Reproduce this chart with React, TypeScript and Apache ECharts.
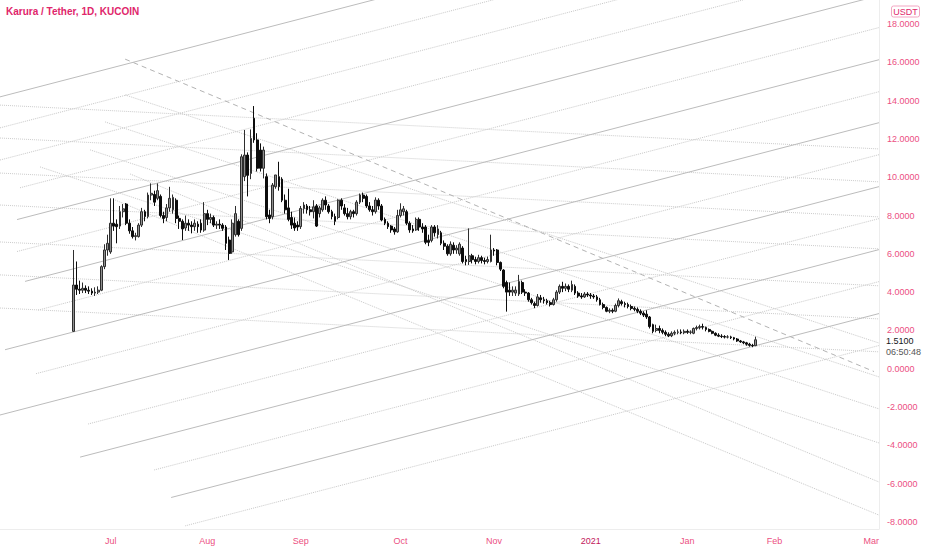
import React, { useEffect, useRef } from "react";
import * as echarts from "echarts";

// ---- data ----
const FIRST_INDEX = 23; // first candle's day index
const DAY_COUNT = 282; // days spanned by the time axis

const opens = [
  1.95, 4.37, 4.15, 4.1, 4.2, 4.1, 4.05, 3.95, 4.0, 4.1,
  5.33, 6.2, 6.1, 7.6, 7.55, 7.45, 8.2, 8.6, 7.6, 7.2,
  6.9, 6.9, 7.5, 8.2, 7.95, 9.07, 9.1, 8.9, 9.0, 8.0,
  7.9, 8.4, 8.3, 8.8, 7.85, 7.7, 7.35, 7.6, 7.5, 7.42,
  7.55, 7.6, 7.24, 8.1, 7.8, 7.9, 7.5, 7.55, 7.5, 7.4,
  6.72, 6.1, 7.0, 7.7, 7.33, 10.03, 11.16, 10.2, 13.08, 11.95,
  11.42, 10.47, 10.03, 8.03, 7.94, 9.51, 10.03, 9.9, 8.8, 8.4,
  7.9, 7.6, 7.5, 7.42, 8.37, 8.5, 8.3, 8.2, 8.5, 8.1,
  8.3, 8.8, 8.5, 8.2, 7.95, 7.9, 8.8, 8.4, 8.1, 7.94,
  8.2, 8.1, 8.7, 9.07, 9.0, 8.5, 8.3, 8.2, 8.8, 8.5,
  7.8, 7.6, 7.45, 7.3, 7.15, 8.0, 8.2, 8.2, 7.6, 7.3,
  7.25, 7.8, 7.4, 7.4, 6.7, 6.7, 7.4, 7.0, 7.1, 6.55,
  6.4, 6.0, 6.45, 6.2, 6.0, 6.3, 5.7, 5.6, 5.9, 5.7,
  5.6, 5.8, 5.65, 5.6, 5.6, 6.2, 6.2, 5.55, 5.15, 4.5,
  4.1, 4.0, 3.95, 3.9, 4.5, 4.0, 3.95, 3.6, 3.4, 3.3,
  3.7, 3.6, 3.55, 3.45, 3.35, 3.6, 4.0, 4.3, 4.2, 4.3,
  4.1, 4.3, 3.95, 3.8, 3.75, 3.9, 3.85, 3.8, 3.75, 3.6,
  3.35, 3.2, 3.0, 3.05, 3.0, 3.3, 3.5, 3.4, 3.35, 3.25,
  3.15, 3.1, 3.0, 2.9, 2.85, 2.7, 2.3, 2.0, 2.1, 2.0,
  1.9, 1.8, 1.72, 1.85, 1.9, 1.92, 1.88, 1.95, 1.9, 1.85,
  2.1, 2.15, 2.2, 2.15, 2.05, 1.95, 1.85, 1.75, 1.7, 1.68,
  1.65, 1.66, 1.62, 1.55, 1.45, 1.4, 1.35, 1.28, 1.22, 1.2,
];

const closes = [
  4.37, 4.15, 4.1, 4.2, 4.1, 4.05, 3.95, 4.0, 4.1, 5.33,
  6.2, 6.55, 7.6, 7.45, 7.42, 8.2, 8.35, 7.6, 7.2, 6.9,
  6.95, 7.5, 8.2, 7.95, 9.07, 9.16, 8.7, 9.3, 8.0, 7.85,
  8.4, 8.9, 8.95, 7.85, 7.7, 7.3, 7.6, 7.5, 7.42, 7.6,
  7.42, 7.24, 8.1, 7.8, 7.9, 7.5, 7.55, 7.5, 7.33, 6.55,
  6.02, 7.6, 8.1, 7.0, 11.07, 11.16, 10.1, 12.03, 11.95, 10.47,
  10.47, 11.42, 7.94, 7.85, 9.59, 10.12, 9.51, 8.8, 8.3, 7.8,
  7.5, 7.35, 7.4, 8.37, 8.55, 8.3, 8.2, 8.45, 7.45, 8.4,
  8.8, 8.55, 8.2, 7.95, 7.7, 8.8, 8.5, 8.1, 7.94, 8.2,
  8.1, 8.7, 9.07, 8.9, 8.5, 8.3, 8.2, 8.81, 8.5, 7.77,
  7.6, 7.42, 7.25, 7.15, 8.0, 8.3, 8.35, 7.6, 7.25, 7.2,
  7.8, 7.4, 7.3, 6.6, 6.6, 7.4, 7.1, 7.3, 6.55, 6.4,
  6.0, 6.5, 6.2, 6.3, 6.5, 5.6, 5.6, 5.9, 5.7, 5.6,
  5.8, 5.65, 5.6, 5.7, 6.2, 6.15, 5.55, 5.2, 4.3, 4.0,
  4.0, 4.1, 4.1, 4.55, 4.0, 3.95, 3.6, 3.45, 3.3, 3.75,
  3.6, 3.55, 3.45, 3.35, 3.6, 4.0, 4.3, 4.2, 4.3, 4.15,
  4.4, 3.95, 3.8, 3.75, 3.9, 3.85, 3.8, 3.75, 3.6, 3.35,
  3.2, 3.0, 3.05, 3.0, 3.3, 3.55, 3.4, 3.35, 3.25, 3.15,
  3.1, 3.0, 2.9, 2.8, 2.7, 2.2, 1.95, 2.1, 2.0, 1.9,
  1.8, 1.72, 1.85, 1.9, 1.92, 1.88, 1.95, 1.9, 1.92, 2.1,
  2.15, 2.2, 2.17, 2.05, 1.95, 1.85, 1.75, 1.7, 1.68, 1.65,
  1.66, 1.62, 1.55, 1.45, 1.4, 1.35, 1.28, 1.22, 1.2, 1.51,
];

const lows = [
  1.93, 3.85, 3.9, 3.95, 3.95, 3.9, 3.85, 3.8, 3.9, 4.05,
  5.2, 5.9, 6.0, 7.2, 6.55, 7.3, 7.9, 7.5, 7.05, 6.8,
  6.7, 6.85, 7.4, 7.7, 7.85, 8.8, 8.5, 8.8, 7.9, 7.6,
  7.7, 8.2, 8.1, 7.6, 7.3, 6.72, 7.2, 7.2, 7.07, 7.2,
  7.1, 7.1, 7.15, 7.5, 7.6, 7.4, 7.3, 7.3, 7.2, 6.2,
  5.68, 6.0, 6.9, 6.9, 7.2, 9.8, 9.0, 9.9, 11.8, 10.3,
  10.3, 9.94, 7.8, 7.6, 7.8, 9.4, 9.3, 8.7, 8.1, 7.7,
  7.3, 7.2, 7.2, 7.3, 8.1, 8.1, 8.0, 7.85, 7.4, 7.9,
  8.2, 8.3, 8.1, 7.8, 7.5, 7.8, 8.3, 8.0, 7.8, 7.8,
  7.9, 8.0, 8.6, 8.7, 8.4, 8.2, 8.0, 8.1, 8.3, 7.7,
  7.5, 7.3, 7.1, 7.0, 7.1, 7.9, 8.0, 7.5, 7.1, 7.1,
  7.2, 7.2, 7.1, 6.5, 6.4, 6.6, 6.9, 6.8, 6.45, 6.2,
  5.9, 5.9, 6.0, 6.0, 5.9, 5.5, 5.4, 5.42, 5.5, 5.45,
  5.5, 5.5, 5.45, 5.5, 5.55, 5.9, 5.4, 5.1, 4.2, 2.98,
  3.8, 3.8, 3.8, 3.8, 3.9, 3.8, 3.5, 3.35, 3.16, 3.25,
  3.45, 3.4, 3.35, 3.25, 3.3, 3.5, 3.9, 4.0, 4.05, 4.0,
  4.0, 3.85, 3.7, 3.65, 3.7, 3.75, 3.65, 3.65, 3.5, 3.3,
  3.1, 2.95, 2.9, 2.9, 2.95, 3.2, 3.3, 3.2, 3.15, 3.05,
  3.0, 2.9, 2.8, 2.7, 2.6, 2.1, 1.85, 1.9, 1.85, 1.8,
  1.7, 1.65, 1.65, 1.75, 1.8, 1.8, 1.8, 1.82, 1.8, 1.8,
  2.0, 2.05, 2.05, 1.95, 1.9, 1.8, 1.7, 1.65, 1.6, 1.58,
  1.58, 1.55, 1.48, 1.4, 1.35, 1.28, 1.2, 1.15, 1.12, 1.18,
];

const highs = [
  6.2, 5.6, 4.6, 4.5, 4.35, 4.3, 4.2, 4.25, 4.3, 5.4,
  6.5, 7.0, 8.9, 8.9, 7.8, 8.5, 8.6, 8.65, 7.8, 7.4,
  7.1, 7.6, 8.4, 8.3, 9.2, 9.68, 9.3, 9.68, 9.1, 8.2,
  8.6, 9.5, 9.1, 8.9, 8.0, 7.8, 8.0, 7.8, 7.7, 7.8,
  7.7, 7.8, 8.7, 8.3, 8.1, 8.0, 7.7, 7.8, 7.6, 7.5,
  6.9, 7.8, 8.5, 7.8, 11.2, 12.47, 11.3, 12.5, 13.72, 12.3,
  11.77, 11.6, 10.2, 8.3, 9.7, 10.12, 10.81, 10.0, 9.1, 9.4,
  8.2, 7.9, 7.7, 8.5, 8.7, 8.6, 8.5, 8.8, 8.6, 8.5,
  8.9, 9.0, 8.6, 8.3, 8.1, 8.85, 8.9, 8.6, 8.4, 8.3,
  8.3, 8.8, 9.15, 9.2, 9.1, 8.7, 8.5, 8.95, 8.9, 8.6,
  7.9, 7.7, 7.5, 7.4, 8.3, 8.64, 8.5, 8.3, 7.7, 7.5,
  7.9, 7.9, 7.6, 7.5, 7.0, 7.5, 7.5, 7.5, 7.2, 6.7,
  6.5, 6.65, 6.6, 6.45, 6.6, 6.4, 5.9, 7.33, 6.0, 5.85,
  5.95, 5.9, 5.8, 5.85, 7.0, 6.3, 6.25, 5.6, 5.2, 4.6,
  4.5, 4.3, 4.3, 4.9, 4.6, 4.15, 4.0, 3.7, 3.5, 3.9,
  3.85, 3.75, 3.65, 3.55, 3.7, 4.1, 4.4, 4.54, 4.45, 4.4,
  4.6, 4.4, 4.05, 3.95, 4.0, 4.0, 3.95, 3.9, 3.85, 3.7,
  3.45, 3.25, 3.15, 3.15, 3.4, 3.67, 3.6, 3.5, 3.45, 3.35,
  3.25, 3.2, 3.1, 3.0, 3.05, 2.75, 2.35, 2.3, 2.25, 2.1,
  2.0, 1.9, 1.95, 2.0, 2.05, 2.05, 2.05, 2.05, 2.0, 2.15,
  2.25, 2.3, 2.35, 2.2, 2.1, 2.0, 1.9, 1.85, 1.8, 1.75,
  1.75, 1.72, 1.66, 1.6, 1.5, 1.45, 1.4, 1.35, 1.3, 1.67,
];

// x-axis tick labels and the day index they sit on
const monthLabels = ["Jul", "Aug", "Sep", "Oct", "Nov", "2021", "Jan", "Feb", "Mar"];
const monthIndex = [35, 66, 96, 128, 158, 189, 220, 248, 279];

// drawing tools: [startDay, startPrice, endDay, endPrice]
const channelSolid = [
  [-0.5, 14.2, 281.5, 26.12],
  [4.96, 7.79, 281.5, 19.49],
  [7.53, 4.56, 281.5, 16.14],
  [1.11, 0.99, 281.5, 12.85],
  [-0.5, -2.42, 281.5, 9.51],
  [25.2, -4.62, 281.5, 6.22],
  [54.4, -6.73, 281.5, 2.88],
];
const channelDotted = [
  [-0.5, 12.58, 281.5, 24.5],
  [-0.5, 10.9, 281.5, 22.83],
  [5.92, 9.45, 281.5, 21.11],
  [4.96, 6.12, 281.5, 17.82],
  [11.71, 3.06, 281.5, 14.47],
  [11.06, -0.26, 281.5, 11.18],
  [27.77, -2.89, 281.5, 7.84],
  [48.97, -5.29, 281.5, 4.55],
  [58.93, -8.21, 281.5, 1.21],
];
const flatDotted = [
  [-0.5, 13.77, 281.5, 11.48],
  [-0.5, 12.05, 281.5, 9.76],
  [-0.5, 10.22, 281.5, 7.93],
  [-0.5, 8.55, 281.5, 6.26],
  [-0.5, 6.62, 281.5, 4.33],
  [-0.5, 4.9, 281.5, 2.6],
  [-0.5, 3.17, 281.5, 0.88],
];
const fallingDotted = [
  [39.65, 14.3, 281.5, 1.34],
  [33.23, 12.89, 281.5, -0.43],
  [28.41, 11.43, 281.5, -2.1],
  [12.35, 10.54, 281.5, -3.88],
  [41.26, 10.17, 281.5, -5.92],
  [36.44, 8.81, 281.5, -7.65],
];
const trendDashed = [[39.65, 16.17, 279.9, -0.15]];

const Y_MIN = -8.375;
const Y_MAX = 19.26;

const PINK = "#e0266b";
const LABEL_PINK = "#ec4f82";
const YEAR_PINK = "#c2185b";
const FONT = '"Liberation Sans", Arial, sans-serif';

function drawLines(list: number[][], style: any, key: string) {
  return list.map((l, k) => ({
    type: "line",
    id: key + k,
    xAxisIndex: 1,
    yAxisIndex: 0,
    data: [
      [l[0], l[1]],
      [l[2], l[3]],
    ],
    symbol: "none",
    silent: true,
    clip: true,
    z: 1,
    lineStyle: style,
  }));
}

export default function App() {
  const ref = useRef<HTMLDivElement>(null);

  useEffect(() => {
    if (!ref.current) return;
    document.body.style.margin = "0";
    const chart = echarts.init(ref.current, null, { renderer: "svg" });

    const candles = opens.map((o, k) => [FIRST_INDEX + k, o, closes[k], lows[k], highs[k]]);
    const categories = Array.from({ length: DAY_COUNT }, (_, i) => String(i));
    const labelOf: Record<number, string> = {};
    monthIndex.forEach((d, k) => (labelOf[d] = monthLabels[k]));

    const option: any = {
      animation: false,
      backgroundColor: "#ffffff",
      grid: { left: 0, right: 53, top: 0, bottom: 21, containLabel: false },
      xAxis: [
        {
          type: "category",
          data: categories,
          boundaryGap: true,
          position: "bottom",
          axisLine: { show: true, onZero: false, lineStyle: { color: "#ededed" } },
          axisTick: { show: false },
          splitLine: { show: false },
          axisLabel: {
            interval: (index: number) => labelOf[index] !== undefined,
            formatter: (_v: string, index: number) => {
              const t = labelOf[index] || "";
              return /^\d+$/.test(t) ? `{y|${t}}` : t;
            },
            color: LABEL_PINK,
            fontSize: 9,
            fontFamily: FONT,
            margin: 7,
            rich: { y: { color: YEAR_PINK, fontSize: 9, fontFamily: FONT } },
          },
        },
        {
          type: "value",
          min: -0.5,
          max: DAY_COUNT - 0.5,
          show: false,
          axisLine: { show: false, onZero: false },
          splitLine: { show: false },
        },
      ],
      yAxis: [
        {
          type: "value",
          position: "right",
          min: Y_MIN,
          max: Y_MAX,
          splitNumber: 14,
          axisLine: { show: true, onZero: false, lineStyle: { color: "#ededed" } },
          axisTick: { show: false },
          splitLine: { show: false },
          axisLabel: {
            showMinLabel: false,
            showMaxLabel: false,
            color: LABEL_PINK,
            fontSize: 9,
            fontFamily: FONT,
            margin: 8,
            formatter: (v: number) => {
              const r = Math.round(v);
              return Math.abs(v - r) < 1e-6 && r % 2 === 0 ? r.toFixed(4) : "";
            },
          },
        },
      ],
      series: [
        ...drawLines(channelDotted, { color: "#c9c9c9", width: 1, type: "dotted" }, "cd"),
        ...drawLines(flatDotted, { color: "#cdcdcd", width: 1, type: "dotted" }, "fd"),
        ...drawLines(fallingDotted, { color: "#c9c9c9", width: 1, type: "dotted" }, "dd"),
        ...drawLines(channelSolid, { color: "#bcbcbc", width: 1, type: "solid" }, "cs"),
        ...drawLines(trendDashed, { color: "#b3b3b3", width: 1, type: [5, 4] }, "td"),
        {
          type: "candlestick",
          id: "candles",
          xAxisIndex: 1,
          yAxisIndex: 0,
          data: candles,
          barWidth: 2.3,
          z: 3,
          itemStyle: {
            color: "#8f8f8f",
            color0: "#0d0d0d",
            borderColor: "#2e2e2e",
            borderColor0: "#0d0d0d",
            borderWidth: 1,
          },
        },
      ],
    };

    chart.setOption(option);

    const lastClose = closes[closes.length - 1];
    const py = chart.convertToPixel({ yAxisIndex: 0 }, lastClose) as number;

    chart.setOption({
      graphic: [
        {
          type: "text",
          left: 6,
          top: 6,
          style: {
            text: "Karura / Tether, 1D, KUCOIN",
            fill: PINK,
            font: `bold 10px ${FONT}`,
          },
        },
        {
          type: "rect",
          shape: { x: 891.5, y: 6, width: 28, height: 11, r: 2 },
          style: { fill: "#ffffff", stroke: "#f3a6c2", lineWidth: 1 },
        },
        {
          type: "text",
          x: 905.5,
          y: 11.7,
          style: {
            text: "USDT",
            fill: PINK,
            font: `9px ${FONT}`,
            align: "center",
            verticalAlign: "middle",
          },
        },
        {
          type: "text",
          x: 886,
          y: py + 1,
          style: {
            text: lastClose.toFixed(4),
            fill: "#131722",
            font: `9px ${FONT}`,
            align: "left",
            verticalAlign: "middle",
          },
        },
        {
          type: "text",
          x: 886,
          y: py + 12,
          style: {
            text: "06:50:48",
            fill: "#555555",
            font: `9px ${FONT}`,
            align: "left",
            verticalAlign: "middle",
          },
        },
      ],
    });

    return () => chart.dispose();
  }, []);

  return (
    <div
      ref={ref}
      style={{ position: "fixed", left: 0, top: 0, width: 932, height: 550, background: "#ffffff" }}
    />
  );
}
